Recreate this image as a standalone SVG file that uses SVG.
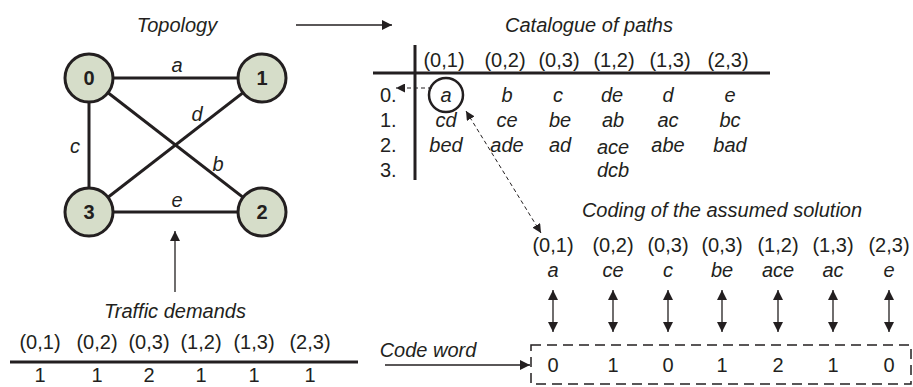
<svg xmlns="http://www.w3.org/2000/svg" width="913" height="387" viewBox="0 0 913 387">
<defs>
<style>
.t{font-family:"Liberation Sans",Arial,sans-serif;font-size:20px;fill:#231f20}
.i{font-style:italic}
.m{text-anchor:middle}
.b{font-weight:bold}
.edge{stroke:#231f20;stroke-width:3;fill:none}
.node{fill:#d6ddc9;stroke:#231f20;stroke-width:3}
.thin{stroke:#231f20;stroke-width:1.3;fill:none}
.dash{stroke:#231f20;stroke-width:1;fill:none;stroke-dasharray:4 3}
.rule{stroke:#231f20;stroke-width:3;fill:none}
</style>
<marker id="ah" viewBox="0 0 10 10" refX="10" refY="5" markerWidth="10" markerHeight="10" markerUnits="userSpaceOnUse" orient="auto-start-reverse">
<path d="M0,0 L10,5 L0,10 z" fill="#231f20"/>
</marker>
<marker id="ahs" viewBox="0 0 10 10" refX="10" refY="5" markerWidth="9" markerHeight="9" markerUnits="userSpaceOnUse" orient="auto-start-reverse">
<path d="M0,0 L10,5 L0,10 z" fill="#231f20"/>
</marker>
</defs>

<g id="connectors">
<line class="edge" x1="89" y1="78" x2="262" y2="78"/>
<line class="edge" x1="89" y1="78" x2="89" y2="212"/>
<line class="edge" x1="89" y1="78" x2="262" y2="212"/>
<line class="edge" x1="262" y1="78" x2="89" y2="212"/>
<line class="edge" x1="89" y1="212" x2="262" y2="212"/>
<line class="thin" x1="296" y1="25" x2="392" y2="25" marker-end="url(#ah)"/>
<line class="thin" x1="175" y1="292" x2="175" y2="231" marker-end="url(#ah)"/>
<line class="thin" x1="385" y1="365" x2="530" y2="365" marker-end="url(#ah)"/>
<line class="dash" x1="432" y1="88" x2="396" y2="88" marker-end="url(#ahs)"/>
<line class="dash" x1="466" y1="111" x2="541" y2="233" marker-start="url(#ahs)" marker-end="url(#ahs)"/>
<g id="coding-arrows">
<line class="thin" x1="553" y1="290" x2="553" y2="332" marker-start="url(#ah)" marker-end="url(#ah)"/>
<line class="thin" x1="613" y1="290" x2="613" y2="332" marker-start="url(#ah)" marker-end="url(#ah)"/>
<line class="thin" x1="668" y1="290" x2="668" y2="332" marker-start="url(#ah)" marker-end="url(#ah)"/>
<line class="thin" x1="722" y1="290" x2="722" y2="332" marker-start="url(#ah)" marker-end="url(#ah)"/>
<line class="thin" x1="778" y1="290" x2="778" y2="332" marker-start="url(#ah)" marker-end="url(#ah)"/>
<line class="thin" x1="833" y1="290" x2="833" y2="332" marker-start="url(#ah)" marker-end="url(#ah)"/>
<line class="thin" x1="889" y1="290" x2="889" y2="332" marker-start="url(#ah)" marker-end="url(#ah)"/>
</g>
</g>

<g id="topology">
<text class="t i m" x="177" y="32">Topology</text>
<text class="t i m" x="177" y="72">a</text>
<text class="t i m" x="197" y="121">d</text>
<text class="t i m" x="75" y="153">c</text>
<text class="t i m" x="218" y="171">b</text>
<text class="t i m" x="177" y="207">e</text>
</g>
<g id="node0"><circle class="node" cx="89" cy="78" r="24"/><text class="t b m" x="89" y="85">0</text></g>
<g id="node1"><circle class="node" cx="262" cy="78" r="24"/><text class="t b m" x="262" y="85">1</text></g>
<g id="node3"><circle class="node" cx="89" cy="212" r="24"/><text class="t b m" x="89" y="219">3</text></g>
<g id="node2"><circle class="node" cx="262" cy="212" r="24"/><text class="t b m" x="262" y="219">2</text></g>

<g id="catalogue">
<text class="t i m" x="589" y="32">Catalogue of paths</text>
<line class="rule" x1="373" y1="73" x2="770" y2="73"/>
<line class="rule" x1="415" y1="45" x2="415" y2="180"/>
<g class="t m">
<text x="444" y="67">(0,1)</text>
<text x="505" y="67">(0,2)</text>
<text x="559" y="67">(0,3)</text>
<text x="614" y="67">(1,2)</text>
<text x="670" y="67">(1,3)</text>
<text x="728" y="67">(2,3)</text>
</g>
<g class="t">
<text x="380" y="102">0.</text>
<text x="380" y="127">1.</text>
<text x="380" y="152">2.</text>
<text x="380" y="177">3.</text>
</g>
<g class="t i m">
<text x="446" y="102">a</text><text x="507" y="102">b</text><text x="558" y="102">c</text><text x="612" y="102">de</text><text x="668" y="102">d</text><text x="730" y="102">e</text>
<text x="446" y="127">cd</text><text x="507" y="127">ce</text><text x="560" y="127">be</text><text x="613" y="127">ab</text><text x="668" y="127">ac</text><text x="730" y="127">bc</text>
<text x="446" y="152">bed</text><text x="507" y="152">ade</text><text x="560" y="152">ad</text><text x="613" y="154">ace</text><text x="668" y="152">abe</text><text x="730" y="152">bad</text>
<text x="613" y="177">dcb</text>
</g>
<circle cx="446" cy="95" r="17" fill="none" stroke="#231f20" stroke-width="2.5"/>
</g>

<g id="coding">
<text class="t i m" x="722" y="217">Coding of the assumed solution</text>
<g class="t m">
<text x="553" y="252">(0,1)</text>
<text x="613" y="252">(0,2)</text>
<text x="668" y="252">(0,3)</text>
<text x="722" y="252">(0,3)</text>
<text x="778" y="252">(1,2)</text>
<text x="833" y="252">(1,3)</text>
<text x="889" y="252">(2,3)</text>
</g>
<g class="t i m">
<text x="553" y="277">a</text>
<text x="613" y="277">ce</text>
<text x="668" y="277">c</text>
<text x="722" y="277">be</text>
<text x="778" y="277">ace</text>
<text x="833" y="277">ac</text>
<text x="889" y="277">e</text>
</g>
</g>

<g id="codeword">
<text class="t i m" x="428" y="357">Code word</text>
<rect x="531" y="345" width="380" height="39" fill="none" stroke="#231f20" stroke-width="1.5" stroke-dasharray="10 6"/>
<g class="t m">
<text x="553" y="372">0</text>
<text x="613" y="372">1</text>
<text x="668" y="372">0</text>
<text x="722" y="372">1</text>
<text x="778" y="372">2</text>
<text x="833" y="372">1</text>
<text x="889" y="372">0</text>
</g>
</g>

<g id="traffic">
<text class="t i m" x="175" y="318">Traffic demands</text>
<g class="t m">
<text x="40" y="349">(0,1)</text>
<text x="97" y="349">(0,2)</text>
<text x="149" y="349">(0,3)</text>
<text x="201" y="349">(1,2)</text>
<text x="254" y="349">(1,3)</text>
<text x="310" y="349">(2,3)</text>
</g>
<line class="rule" x1="10" y1="362" x2="358" y2="362"/>
<g class="t m">
<text x="40" y="382">1</text>
<text x="97" y="382">1</text>
<text x="149" y="382">2</text>
<text x="201" y="382">1</text>
<text x="254" y="382">1</text>
<text x="310" y="382">1</text>
</g>
</g>
</svg>
